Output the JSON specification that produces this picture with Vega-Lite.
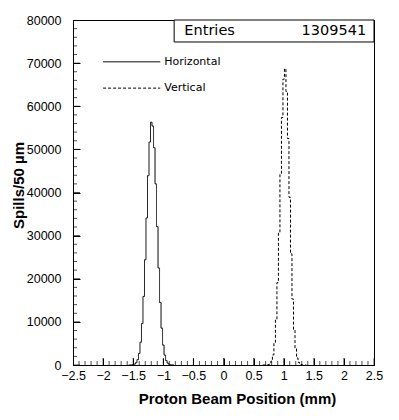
{
  "$schema": "https://vega.github.io/schema/vega-lite/v6.json",
  "autosize": "none",
  "width": 301,
  "height": 345,
  "padding": {"left": 73, "top": 20, "right": 25, "bottom": 55},
  "background": "white",
  "config": {
    "view": {"stroke": "black", "strokeWidth": 1},
    "axis": {"labelFont": "Liberation Sans", "labelFontSize": 12.5, "labelColor": "black", "titleFont": "Liberation Sans", "titleFontWeight": "bold", "titleFontSize": 15, "titleColor": "black", "domainColor": "black", "tickColor": "black", "grid": false, "labelOverlap": false}
  },
  "datasets": {
    "hist": [
      {"series": "Horizontal", "x": -1.575, "y": 0},
      {"series": "Horizontal", "x": -1.55, "y": 7},
      {"series": "Horizontal", "x": -1.525, "y": 24},
      {"series": "Horizontal", "x": -1.5, "y": 75},
      {"series": "Horizontal", "x": -1.475, "y": 210},
      {"series": "Horizontal", "x": -1.45, "y": 530},
      {"series": "Horizontal", "x": -1.425, "y": 1240},
      {"series": "Horizontal", "x": -1.4, "y": 2680},
      {"series": "Horizontal", "x": -1.375, "y": 5300},
      {"series": "Horizontal", "x": -1.35, "y": 9600},
      {"series": "Horizontal", "x": -1.325, "y": 15900},
      {"series": "Horizontal", "x": -1.3, "y": 24400},
      {"series": "Horizontal", "x": -1.275, "y": 34100},
      {"series": "Horizontal", "x": -1.25, "y": 43900},
      {"series": "Horizontal", "x": -1.225, "y": 51700},
      {"series": "Horizontal", "x": -1.2, "y": 56300},
      {"series": "Horizontal", "x": -1.175, "y": 55400},
      {"series": "Horizontal", "x": -1.15, "y": 50400},
      {"series": "Horizontal", "x": -1.125, "y": 42000},
      {"series": "Horizontal", "x": -1.1, "y": 32100},
      {"series": "Horizontal", "x": -1.075, "y": 22500},
      {"series": "Horizontal", "x": -1.05, "y": 14500},
      {"series": "Horizontal", "x": -1.025, "y": 8550},
      {"series": "Horizontal", "x": -1.0, "y": 4620},
      {"series": "Horizontal", "x": -0.975, "y": 2300},
      {"series": "Horizontal", "x": -0.95, "y": 1045},
      {"series": "Horizontal", "x": -0.925, "y": 436},
      {"series": "Horizontal", "x": -0.9, "y": 167},
      {"series": "Horizontal", "x": -0.875, "y": 58},
      {"series": "Horizontal", "x": -0.85, "y": 18},
      {"series": "Horizontal", "x": -0.825, "y": 0},
      {"series": "Vertical", "x": 0.65, "y": 0},
      {"series": "Vertical", "x": 0.675, "y": 2},
      {"series": "Vertical", "x": 0.7, "y": 8},
      {"series": "Vertical", "x": 0.725, "y": 30},
      {"series": "Vertical", "x": 0.75, "y": 105},
      {"series": "Vertical", "x": 0.775, "y": 330},
      {"series": "Vertical", "x": 0.8, "y": 930},
      {"series": "Vertical", "x": 0.825, "y": 2340},
      {"series": "Vertical", "x": 0.85, "y": 5260},
      {"series": "Vertical", "x": 0.875, "y": 10600},
      {"series": "Vertical", "x": 0.9, "y": 19100},
      {"series": "Vertical", "x": 0.925, "y": 30800},
      {"series": "Vertical", "x": 0.95, "y": 44400},
      {"series": "Vertical", "x": 0.975, "y": 57400},
      {"series": "Vertical", "x": 1.0, "y": 66300},
      {"series": "Vertical", "x": 1.025, "y": 68700},
      {"series": "Vertical", "x": 1.05, "y": 63400},
      {"series": "Vertical", "x": 1.075, "y": 52500},
      {"series": "Vertical", "x": 1.1, "y": 38900},
      {"series": "Vertical", "x": 1.125, "y": 25800},
      {"series": "Vertical", "x": 1.15, "y": 15300},
      {"series": "Vertical", "x": 1.175, "y": 8120},
      {"series": "Vertical", "x": 1.2, "y": 3850},
      {"series": "Vertical", "x": 1.225, "y": 1640},
      {"series": "Vertical", "x": 1.25, "y": 625},
      {"series": "Vertical", "x": 1.275, "y": 212},
      {"series": "Vertical", "x": 1.3, "y": 65},
      {"series": "Vertical", "x": 1.325, "y": 18},
      {"series": "Vertical", "x": 1.35, "y": 5},
      {"series": "Vertical", "x": 1.375, "y": 0}
    ],
    "legendLines": [
      {"series": "Horizontal", "x": -2.0, "x2": -1.05, "y": 70300},
      {"series": "Vertical", "x": -2.0, "x2": -1.05, "y": 64200}
    ],
    "legendText": [
      {"series": "Horizontal", "x": -1.05, "y": 70300},
      {"series": "Vertical", "x": -1.05, "y": 64200}
    ],
    "statsBox": [
      {"x": -0.82, "x2": 2.5, "y": 74900, "y2": 80000}
    ],
    "statsText": [
      {"label": "Entries", "x": -0.65, "y": 77450, "side": "left"},
      {"label": "1309541", "x": 2.37, "y": 77450, "side": "right"}
    ],
    "xTicks": [
      {"x": -2.5, "y": 0, "kind": "major"}, {"x": -2.4, "y": 0, "kind": "minor"}, {"x": -2.3, "y": 0, "kind": "minor"}, {"x": -2.2, "y": 0, "kind": "minor"}, {"x": -2.1, "y": 0, "kind": "minor"},
      {"x": -2.0, "y": 0, "kind": "major"}, {"x": -1.9, "y": 0, "kind": "minor"}, {"x": -1.8, "y": 0, "kind": "minor"}, {"x": -1.7, "y": 0, "kind": "minor"}, {"x": -1.6, "y": 0, "kind": "minor"},
      {"x": -1.5, "y": 0, "kind": "major"}, {"x": -1.4, "y": 0, "kind": "minor"}, {"x": -1.3, "y": 0, "kind": "minor"}, {"x": -1.2, "y": 0, "kind": "minor"}, {"x": -1.1, "y": 0, "kind": "minor"},
      {"x": -1.0, "y": 0, "kind": "major"}, {"x": -0.9, "y": 0, "kind": "minor"}, {"x": -0.8, "y": 0, "kind": "minor"}, {"x": -0.7, "y": 0, "kind": "minor"}, {"x": -0.6, "y": 0, "kind": "minor"},
      {"x": -0.5, "y": 0, "kind": "major"}, {"x": -0.4, "y": 0, "kind": "minor"}, {"x": -0.3, "y": 0, "kind": "minor"}, {"x": -0.2, "y": 0, "kind": "minor"}, {"x": -0.1, "y": 0, "kind": "minor"},
      {"x": 0, "y": 0, "kind": "major"}, {"x": 0.1, "y": 0, "kind": "minor"}, {"x": 0.2, "y": 0, "kind": "minor"}, {"x": 0.3, "y": 0, "kind": "minor"}, {"x": 0.4, "y": 0, "kind": "minor"},
      {"x": 0.5, "y": 0, "kind": "major"}, {"x": 0.6, "y": 0, "kind": "minor"}, {"x": 0.7, "y": 0, "kind": "minor"}, {"x": 0.8, "y": 0, "kind": "minor"}, {"x": 0.9, "y": 0, "kind": "minor"},
      {"x": 1.0, "y": 0, "kind": "major"}, {"x": 1.1, "y": 0, "kind": "minor"}, {"x": 1.2, "y": 0, "kind": "minor"}, {"x": 1.3, "y": 0, "kind": "minor"}, {"x": 1.4, "y": 0, "kind": "minor"},
      {"x": 1.5, "y": 0, "kind": "major"}, {"x": 1.6, "y": 0, "kind": "minor"}, {"x": 1.7, "y": 0, "kind": "minor"}, {"x": 1.8, "y": 0, "kind": "minor"}, {"x": 1.9, "y": 0, "kind": "minor"},
      {"x": 2.0, "y": 0, "kind": "major"}, {"x": 2.1, "y": 0, "kind": "minor"}, {"x": 2.2, "y": 0, "kind": "minor"}, {"x": 2.3, "y": 0, "kind": "minor"}, {"x": 2.4, "y": 0, "kind": "minor"},
      {"x": 2.5, "y": 0, "kind": "major"}
    ],
    "yTicks": [
      {"x": -2.5, "y": 0, "kind": "major"}, {"x": -2.5, "y": 2000, "kind": "minor"}, {"x": -2.5, "y": 4000, "kind": "minor"}, {"x": -2.5, "y": 6000, "kind": "minor"}, {"x": -2.5, "y": 8000, "kind": "minor"},
      {"x": -2.5, "y": 10000, "kind": "major"}, {"x": -2.5, "y": 12000, "kind": "minor"}, {"x": -2.5, "y": 14000, "kind": "minor"}, {"x": -2.5, "y": 16000, "kind": "minor"}, {"x": -2.5, "y": 18000, "kind": "minor"},
      {"x": -2.5, "y": 20000, "kind": "major"}, {"x": -2.5, "y": 22000, "kind": "minor"}, {"x": -2.5, "y": 24000, "kind": "minor"}, {"x": -2.5, "y": 26000, "kind": "minor"}, {"x": -2.5, "y": 28000, "kind": "minor"},
      {"x": -2.5, "y": 30000, "kind": "major"}, {"x": -2.5, "y": 32000, "kind": "minor"}, {"x": -2.5, "y": 34000, "kind": "minor"}, {"x": -2.5, "y": 36000, "kind": "minor"}, {"x": -2.5, "y": 38000, "kind": "minor"},
      {"x": -2.5, "y": 40000, "kind": "major"}, {"x": -2.5, "y": 42000, "kind": "minor"}, {"x": -2.5, "y": 44000, "kind": "minor"}, {"x": -2.5, "y": 46000, "kind": "minor"}, {"x": -2.5, "y": 48000, "kind": "minor"},
      {"x": -2.5, "y": 50000, "kind": "major"}, {"x": -2.5, "y": 52000, "kind": "minor"}, {"x": -2.5, "y": 54000, "kind": "minor"}, {"x": -2.5, "y": 56000, "kind": "minor"}, {"x": -2.5, "y": 58000, "kind": "minor"},
      {"x": -2.5, "y": 60000, "kind": "major"}, {"x": -2.5, "y": 62000, "kind": "minor"}, {"x": -2.5, "y": 64000, "kind": "minor"}, {"x": -2.5, "y": 66000, "kind": "minor"}, {"x": -2.5, "y": 68000, "kind": "minor"},
      {"x": -2.5, "y": 70000, "kind": "major"}, {"x": -2.5, "y": 72000, "kind": "minor"}, {"x": -2.5, "y": 74000, "kind": "minor"}, {"x": -2.5, "y": 76000, "kind": "minor"}, {"x": -2.5, "y": 78000, "kind": "minor"},
      {"x": -2.5, "y": 80000, "kind": "major"}
    ]
  },
  "encoding": {
    "x": {"field": "x", "type": "quantitative",
      "scale": {"domain": [-2.5, 2.5], "nice": false, "zero": false},
      "axis": {
        "title": "Proton Beam Position (mm)",
        "titleX": 164, "titleY": 26, "titleAnchor": null,
        "values": [-2.5,-2.0,-1.5,-1.0,-0.5,0,0.5,1.0,1.5,2.0,2.5],
        "tickCount": 100,
        "labelExpr": "format(datum.value, '')",
        "labelFlush": false,
        "labelPadding": 11,
        "tickSize": -7
      }
    },
    "y": {"field": "y", "type": "quantitative",
      "scale": {"domain": [0, 80000], "nice": false},
      "axis": {
        "title": "Spills/50 µm",
        "titleX": -47, "titleY": 165, "titleAnchor": null,
        "values": [0,10000,20000,30000,40000,50000,60000,70000,80000],
        "tickCount": 100,
        "format": "d",
        "labelFlush": false,
        "labelPadding": 19,
        "tickSize": -7
      }
    }
  },
  "layer": [
    {
      "data": {"name": "xTicks"},
      "mark": {"type": "tick", "orient": "vertical", "color": "black", "thickness": 1, "clip": true},
      "encoding": {
        "size": {"field": "kind", "type": "nominal", "scale": {"domain": ["major", "minor"], "range": [14, 8]}, "legend": null}
      }
    },
    {
      "data": {"name": "yTicks"},
      "mark": {"type": "tick", "orient": "horizontal", "color": "black", "thickness": 1, "clip": true},
      "encoding": {
        "size": {"field": "kind", "type": "nominal", "scale": {"domain": ["major", "minor"], "range": [14, 8]}, "legend": null}
      }
    },
    {
      "data": {"name": "hist"},
      "mark": {"type": "line", "interpolate": "step", "color": "black", "strokeWidth": 1, "clip": true},
      "encoding": {
        "strokeDash": {"field": "series", "type": "nominal",
          "scale": {"domain": ["Horizontal", "Vertical"], "range": [[1, 0], [3, 2]]},
          "legend": null}
      }
    },
    {
      "data": {"name": "legendLines"},
      "mark": {"type": "rule", "color": "black", "strokeWidth": 1},
      "encoding": {
        "x2": {"field": "x2"},
        "strokeDash": {"field": "series", "type": "nominal",
          "scale": {"domain": ["Horizontal", "Vertical"], "range": [[1, 0], [3, 2]]},
          "legend": null}
      }
    },
    {
      "data": {"name": "legendText"},
      "mark": {"type": "text", "align": "left", "baseline": "middle", "font": "DejaVu Sans", "fontSize": 11, "color": "black", "dx": 4},
      "encoding": {
        "text": {"field": "series"}
      }
    },
    {
      "data": {"name": "statsBox"},
      "mark": {"type": "rect", "fill": "white", "stroke": "black", "strokeWidth": 1},
      "encoding": {
        "x2": {"field": "x2"},
        "y2": {"field": "y2"}
      }
    },
    {
      "data": {"name": "statsText"},
      "transform": [{"filter": "datum.side === 'left'"}],
      "mark": {"type": "text", "align": "left", "baseline": "middle", "font": "DejaVu Sans", "fontSize": 14.5, "color": "black"},
      "encoding": {
        "text": {"field": "label"}
      }
    },
    {
      "data": {"name": "statsText"},
      "transform": [{"filter": "datum.side === 'right'"}],
      "mark": {"type": "text", "align": "right", "baseline": "middle", "font": "DejaVu Sans", "fontSize": 14.5, "color": "black"},
      "encoding": {
        "text": {"field": "label"}
      }
    }
  ]
}
